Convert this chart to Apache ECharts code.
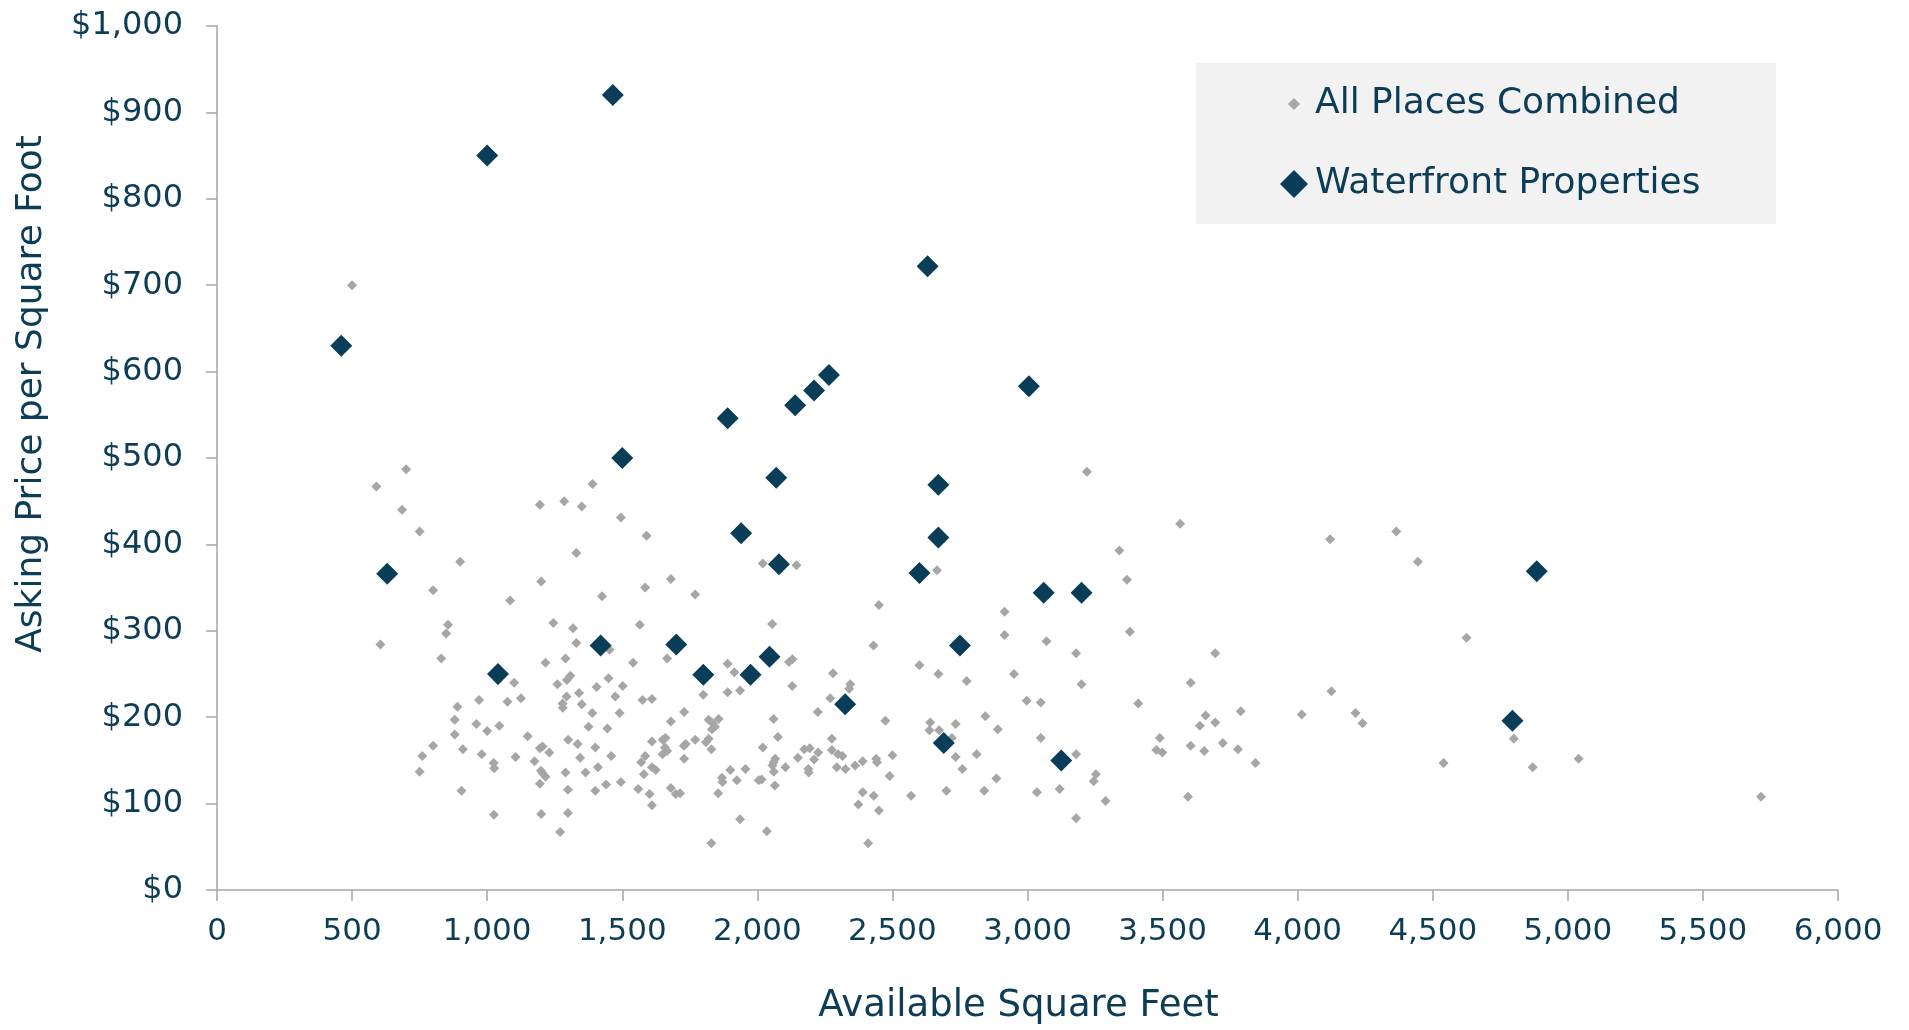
<!DOCTYPE html>
<html>
<head>
<meta charset="utf-8">
<title>Asking Price per Square Foot</title>
<script src="https://cdn.jsdelivr.net/npm/echarts@6/dist/echarts.min.js"></script>
<style>
  html, body { margin: 0; padding: 0; background: #fff; }
  #scatter1 { width: 1909px; height: 1030px; }
</style>
</head>
<body>
<div id="scatter1"></div>
<script>
// [square feet, asking price per sq ft]
var allPlaces = [
  [500,700],[700,487],[590,467],[685,440],[750,415],[900,380],[1195,446],[1285,450],[1350,444],[1390,470],[1495,431],[1330,390],
  [800,347],[1200,357],[1425,340],[1085,335],[855,307],[848,297],[605,284],[830,268],[1245,309],[1318,303],[1330,286],[1453,278],
  [1290,268],[1216,263],[1040,243],[1100,240],[1308,248],[1295,243],[1260,238],[1405,235],[1449,245],[1502,236],[1340,228],[1294,224],
  [1474,224],[1279,216],[1280,211],[1350,215],[1389,205],[1490,205],[1375,189],[1445,187],[970,220],[1075,218],[1125,222],[890,212],
  [880,197],[960,192],[1000,184],[1045,190],[880,180],[1150,178],[800,167],[910,163],[760,155],[980,157],[750,137],[1195,164],
  [1205,166],[1230,159],[1300,174],[1335,169],[1400,165],[1344,153],[1459,155],[1105,154],[1024,147],[1026,141],[1175,149],[1199,138],
  [1205,135],[1216,131],[1290,136],[1364,136],[1410,142],[1195,123],[1299,116],[1400,115],[1440,122],[1495,125],[905,115],[1025,87],
  [1200,88],[1299,89],[1270,67],
  [1590,410],[2020,378],[2145,376],
  [2665,370],[1680,360],[1585,350],[1770,342],[1565,307],[2055,308],[2450,330],[2915,322],[2915,295],[1666,268],[1540,263],[1890,262],
  [1915,252],[2117,264],[2130,267],[2430,283],[2600,260],[2670,250],[2775,242],[2950,250],[2997,219],[1575,220],[1610,221],[1800,226],
  [1890,229],[1936,231],[2129,236],[2280,251],[2344,238],[2340,233],[2270,222],[2224,206],[2474,196],[2844,201],[2890,186],[2734,192],
  [2640,194],[2637,185],[2673,185],[2720,176],[2734,154],[2812,157],[2759,140],[2885,129],[2840,115],[2700,115],[2569,109],[2500,156],
  [2490,132],[2440,152],[2443,148],[2390,149],[2362,144],[2390,113],[2431,109],[2374,99],[2450,92],[2410,54],[2276,175],[2276,162],
  [2299,157],[2315,155],[2294,142],[2326,140],[2225,159],[2210,151],[2174,163],[2194,164],[2150,153],[2189,140],[2190,136],[2104,142],
  [2076,177],[2060,198],[2020,165],[2066,152],[2060,148],[2056,144],[2061,137],[2065,121],[2035,68],[1936,82],[1830,54],[2016,128],
  [2005,127],[1956,140],[1900,139],[1869,130],[1871,125],[1924,127],[1855,112],[1830,163],[1820,175],[1810,171],[1820,197],[1835,193],
  [1857,198],[1843,189],[1832,186],[1770,174],[1729,206],[1680,195],[1610,172],[1650,174],[1660,176],[1658,165],[1666,161],[1649,157],
  [1585,155],[1570,148],[1729,152],[1728,167],[1735,169],[1610,142],[1624,139],[1580,134],[1559,117],[1601,111],[1680,118],[1698,111],
  [1714,112],[1610,98],
  [3220,484],[3565,424],[3340,393],[4120,406],[4365,415],[4445,380],
  [3368,359],[3379,299],[3070,288],[3180,274],[3695,274],[3200,238],[3604,240],[3049,217],[3410,216],[4125,230],[4015,203],[4214,205],
  [4240,193],[3789,207],[3659,202],[3695,194],[3638,190],[3723,170],[3779,163],[3844,147],[3604,167],[3654,161],[3490,176],[3477,162],
  [3499,159],[3594,108],[3049,176],[3180,157],[3253,134],[3245,126],[3035,113],[3119,117],[3289,103],[3180,83],
  [4625,292],[4800,175],[4540,147],[4870,142],[5040,152],[5715,108]
];

var waterfront = [
  [460,630],[630,366],[1000,850],[1040,250],[1420,283],[1465,920],[1500,500],[1700,284],
  [1800,249],[1890,546],[1940,413],[1975,249],[2045,270],[2070,477],[2080,377],[2140,561],
  [2210,578],[2265,596],[2325,215],[2600,367],[2630,722],[2670,469],[2670,408],[2690,170],
  [2750,283],[3005,583],[3060,344],[3125,150],[3200,344],[4795,196],[4885,369]
];

var seriesNames = ['All Places Combined', 'Waterfront Properties'];
var xTicks = { min: 0, max: 6000, step: 500 };
var yTicks = { min: 0, max: 1000, step: 100 };

var textColor = '#0d3d56';
var font = 'DejaVu Sans';

var myChart = echarts.init(document.getElementById('scatter1'));

var option = {
    backgroundColor: '#ffffff',
    animation: false,
    textStyle: { fontFamily: font, color: textColor },
    grid: { left: 217, right: 71, top: 26, bottom: 136 },
    graphic: [{
        type: 'rect',
        left: 1196, top: 63,
        z: -10,
        shape: { width: 580, height: 161 },
        style: { fill: '#f2f2f2' }
    }],
    legend: [
        {
            data: [seriesNames[0]],
            left: 1288, top: 86, padding: 0,
            itemWidth: 12, itemHeight: 12,
            textStyle: { fontFamily: font, fontSize: 36, color: textColor, padding: [0, 0, 0, 10] }
        },
        {
            data: [seriesNames[1]],
            left: 1280, top: 166, padding: 0,
            itemWidth: 28, itemHeight: 28,
            textStyle: { fontFamily: font, fontSize: 36, color: textColor, padding: [0, 0, 0, 2] }
        }
    ],
    xAxis: {
        type: 'value',
        min: xTicks.min, max: xTicks.max, interval: xTicks.step,
        name: 'Available Square Feet',
        nameLocation: 'middle',
        nameGap: 98,
        nameTextStyle: { fontFamily: font, fontSize: 37, color: textColor, padding: [0, 18, 0, 0] },
        axisLine: { show: true, lineStyle: { color: '#a6a6a6', width: 1.5 } },
        axisTick: { show: true, length: 11, lineStyle: { color: '#a6a6a6', width: 1.5 } },
        splitLine: { show: false },
        axisLabel: {
            margin: 26,
            fontFamily: font, fontSize: 31, color: textColor,
            formatter: function (v) { return v.toLocaleString('en-US'); }
        }
    },
    yAxis: {
        type: 'value',
        min: yTicks.min, max: yTicks.max, interval: yTicks.step,
        name: 'Asking Price per Square Foot',
        nameLocation: 'middle',
        nameGap: 167,
        nameTextStyle: { fontFamily: font, fontSize: 36, color: textColor, padding: [0, 0, 0, 128] },
        axisLine: { show: true, lineStyle: { color: '#a6a6a6', width: 1.5 } },
        axisTick: { show: true, length: 11, lineStyle: { color: '#a6a6a6', width: 1.5 } },
        splitLine: { show: false },
        axisLabel: {
            margin: 34,
            fontFamily: font, fontSize: 32, color: textColor,
            formatter: function (v) { return '$' + v.toLocaleString('en-US'); }
        }
    },
    series: [
        {
            name: seriesNames[0],
            type: 'scatter',
            symbol: 'diamond',
            symbolSize: 10,
            itemStyle: { color: '#a6a6a6', opacity: 1 },
            data: allPlaces
        },
        {
            name: seriesNames[1],
            type: 'scatter',
            symbol: 'diamond',
            symbolSize: 22,
            itemStyle: { color: '#0a3d57', opacity: 1 },
            data: waterfront
        }
    ]
};

myChart.setOption(option);
</script>
</body>
</html>
